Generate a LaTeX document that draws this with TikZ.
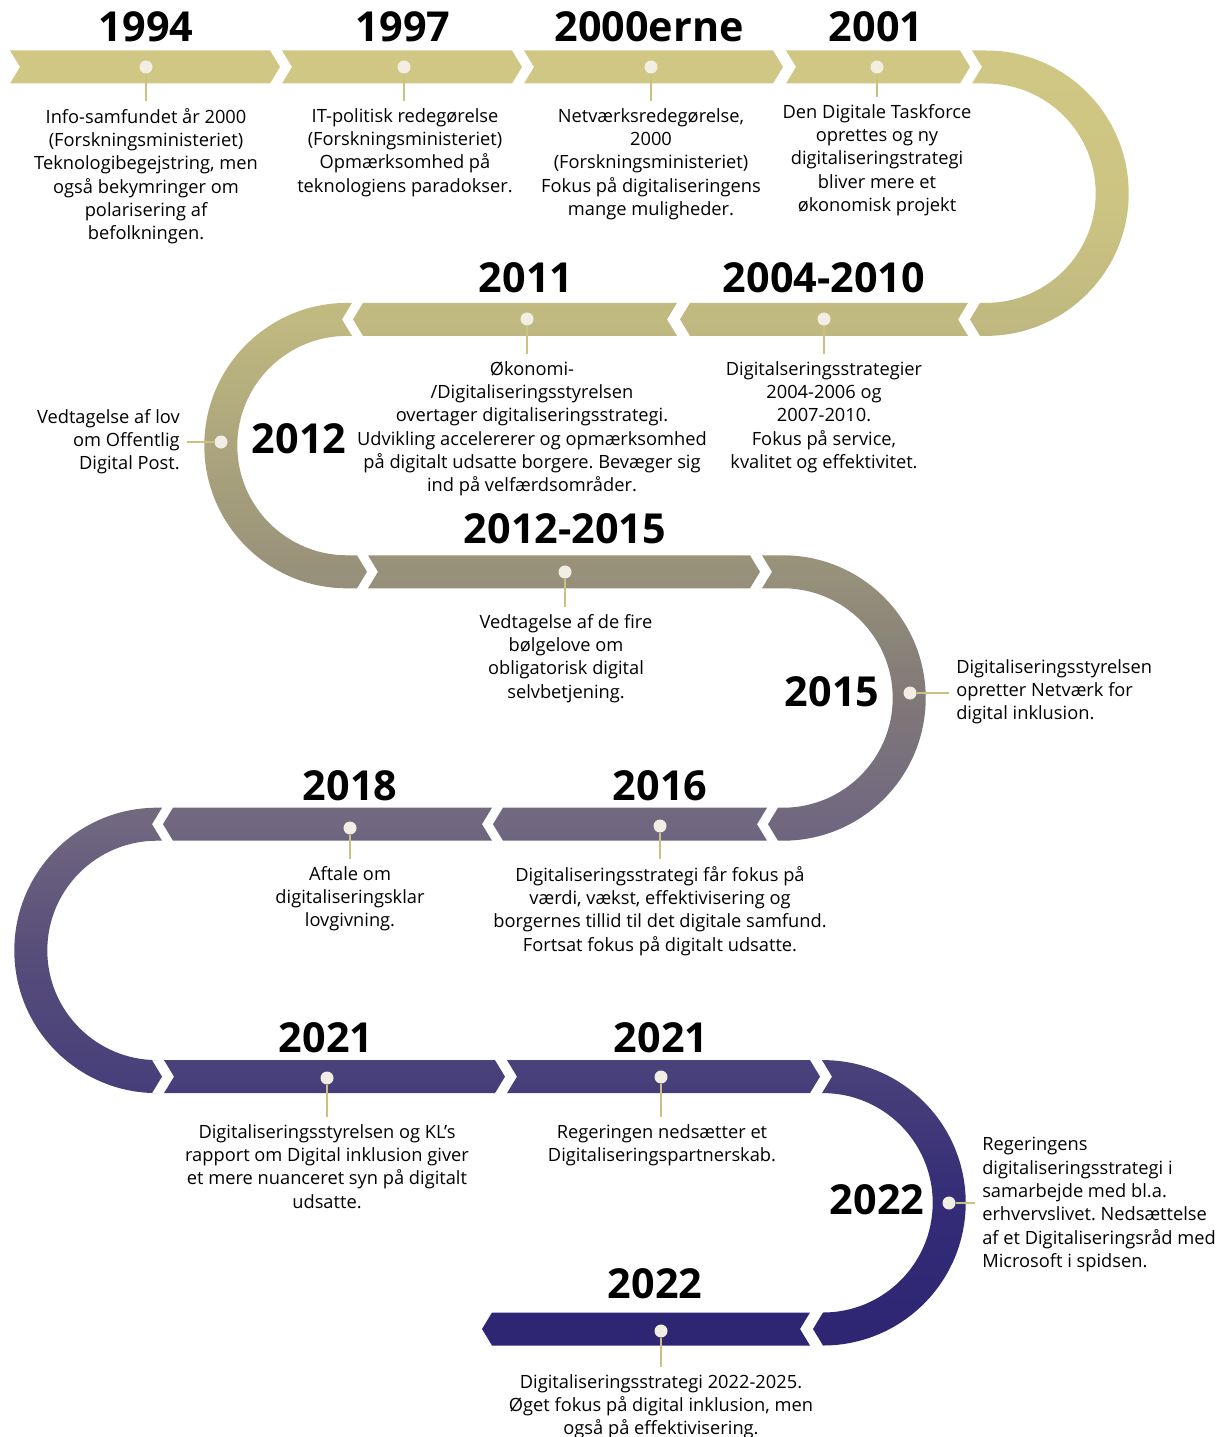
\documentclass[tikz,border=0pt]{standalone}
\usepackage{fontspec}
\setmainfont{Open Sans}
\frenchspacing

\definecolor{tl0}{RGB}{208,199,132}
\definecolor{tl1}{RGB}{204,196,130}
\definecolor{tl2}{RGB}{192,185,128}
\definecolor{tl3}{RGB}{152,145,122}
\definecolor{tl4}{RGB}{128,121,120}
\definecolor{tl5}{RGB}{112,103,128}
\definecolor{tl6}{RGB}{88,78,122}
\definecolor{tl7}{RGB}{72,64,122}
\definecolor{tl8}{RGB}{52,44,118}
\definecolor{tl9}{RGB}{46,38,115}
\definecolor{dotcream}{RGB}{243,238,228}
\definecolor{stemkhaki}{RGB}{201,194,128}

\pgfdeclareverticalshading{timeband}{100bp}{color(0bp)=(tl9); color(25.6bp)=(tl9); color(30.5bp)=(tl8); color(35.4bp)=(tl7); color(40.3bp)=(tl6); color(45.1bp)=(tl5); color(50bp)=(tl4); color(54.9bp)=(tl3); color(64.6bp)=(tl2); color(69bp)=(tl1); color(74.4bp)=(tl0); color(100bp)=(tl0)}

\begin{document}
\begin{tikzpicture}[x=0.75pt,y=-0.75pt]
		\tikzstyle{year label} = [font=\fontsize{31}{36}\selectfont\bfseries, anchor=base, inner sep=0pt]
		\tikzstyle{info text} = [font=\fontsize{13.7}{17.5}\selectfont, align=center, anchor=north, inner sep=0pt]
		\tikzstyle{time dot} = [circle, fill=dotcream, minimum size=9.75pt, inner sep=0pt]
		\tikzstyle{stem line} = [line width=2pt, stemkhaki, shorten >=5pt]

		\useasboundingbox (0,0) rectangle (1228,1437);

		\shade[shading=timeband]
			(10,50.5) -- (270,50.5) -- (280,67) -- (270,83.5) -- (10,83.5) -- (20,67) -- cycle
			(282,50.5) -- (512,50.5) -- (522,67) -- (512,83.5) -- (282,83.5) -- (292,67) -- cycle
			(524,50.5) -- (773,50.5) -- (783,67) -- (773,83.5) -- (524,83.5) -- (534,67) -- cycle
			(786,50.5) -- (960,50.5) -- (970,67) -- (960,83.5) -- (786,83.5) -- (796,67) -- cycle
			(972,50.5) -- (986,50.5) arc[start angle=-90, end angle=90, radius=142.7] -- (980,335.9) -- (970,319.4) -- (980,302.9) -- (986,302.9) arc[start angle=90, end angle=-90, radius=109.7] -- (972,83.5) -- (982,67) -- cycle
			(680,319.4) -- (690,302.9) -- (968,302.9) -- (958,319.4) -- (968,335.9) -- (690,335.9) -- cycle
			(353,319.4) -- (363,302.9) -- (677,302.9) -- (667,319.4) -- (677,335.9) -- (363,335.9) -- cycle
			(352,302.9) -- (347,302.9) arc[start angle=-90, end angle=-270, radius=142.7] -- (357,588.3) -- (367,571.8) -- (357,555.3) -- (347,555.3) arc[start angle=90, end angle=270, radius=109.7] -- (352,335.9) -- (342,319.4) -- cycle
			(368,555.3) -- (750,555.3) -- (760,571.8) -- (750,588.3) -- (368,588.3) -- (378,571.8) -- cycle
			(762,555.3) -- (783,555.3) arc[start angle=-90, end angle=90, radius=142.7] -- (778,840.7) -- (768,824.2) -- (778,807.7) -- (783,807.7) arc[start angle=90, end angle=-90, radius=109.7] -- (762,588.3) -- (772,571.8) -- cycle
			(493,824.2) -- (503,807.7) -- (767,807.7) -- (757,824.2) -- (767,840.7) -- (503,840.7) -- cycle
			(163,824.2) -- (173,807.7) -- (492,807.7) -- (482,824.2) -- (492,840.7) -- (173,840.7) -- cycle
			(162,807.7) -- (157,807.7) arc[start angle=-90, end angle=-270, radius=142.7] -- (152,1093.1) -- (162,1076.6) -- (152,1060.1) -- (157,1060.1) arc[start angle=90, end angle=270, radius=109.7] -- (162,840.7) -- (152,824.2) -- cycle
			(164,1060.1) -- (495,1060.1) -- (505,1076.6) -- (495,1093.1) -- (164,1093.1) -- (174,1076.6) -- cycle
			(507,1060.1) -- (810,1060.1) -- (820,1076.6) -- (810,1093.1) -- (507,1093.1) -- (517,1076.6) -- cycle
			(822,1060.1) -- (823,1060.1) arc[start angle=-90, end angle=90, radius=142.7] -- (813,1329) -- (823,1312.5) arc[start angle=90, end angle=-90, radius=109.7] -- (822,1093.1) -- (832,1076.6) -- cycle
			(482,1329) -- (492,1312.5) -- (810,1312.5) -- (800,1329) -- (810,1345.5) -- (492,1345.5) -- cycle;

		\node[year label] (y1994) at (146,42) {1994};
		\node[year label] (y1997) at (403,42) {1997};
		\node[year label] (y2000) at (649,42) {2000erne};
		\node[year label] (y2001) at (876,42) {2001};
		\node[year label] (y2011) at (526,293) {2011};
		\node[year label] (y2004) at (824,293) {2004-2010};
		\node[year label] (y2012) at (299,453) {2012};
		\node[year label] (y2012b) at (565,543) {2012-2015};
		\node[year label] (y2015) at (832,706) {2015};
		\node[year label] (y2016) at (660,800) {2016};
		\node[year label] (y2018) at (350,800) {2018};
		\node[year label] (y2021a) at (326,1052) {2021};
		\node[year label] (y2021b) at (661,1052) {2021};
		\node[year label] (y2022a) at (877,1214) {2022};
		\node[year label] (y2022b) at (655,1298) {2022};

		\node[time dot] (d1994) at (146,67) {};
		\node[time dot] (d1997) at (404,67) {};
		\node[time dot] (d2000) at (651,67) {};
		\node[time dot] (d2001) at (877,67) {};
		\node[time dot] (d2011) at (527,319) {};
		\node[time dot] (d2004) at (824,319) {};
		\node[time dot] (d2012) at (221,442) {};
		\node[time dot] (d2012b) at (565,572) {};
		\node[time dot] (d2015) at (910,693) {};
		\node[time dot] (d2016) at (660,826) {};
		\node[time dot] (d2018) at (350,828) {};
		\node[time dot] (d2021a) at (327,1078) {};
		\node[time dot] (d2021b) at (661,1077) {};
		\node[time dot] (d2022a) at (949,1203) {};
		\node[time dot] (d2022b) at (661,1331) {};

		\node[info text] (t1994) at (146,108) {Info-samfundet år 2000\\(Forskningsministeriet)\\Teknologibegejstring, men\\også bekymringer om\\polarisering af\\befolkningen.};
		\node[info text] (t1997) at (405,108) {IT-politisk redegørelse\\(Forskningsministeriet)\\Opmærksomhed på\\teknologiens paradokser.};
		\node[info text] (t2000) at (651,108) {Netværksredegørelse,\\2000\\(Forskningsministeriet)\\Fokus på digitaliseringens\\mange muligheder.};
		\node[info text] (t2001) at (877,104) {Den Digitale Taskforce\\oprettes og ny\\digitaliseringstrategi\\bliver mere et\\økonomisk projekt};
		\node[info text] (t2011) at (532,361) {Økonomi-\\/Digitaliseringsstyrelsen\\overtager digitaliseringsstrategi.\\Udvikling accelererer og opmærksomhed\\på digitalt udsatte borgere. Bevæger sig\\ind på velfærdsområder.};
		\node[info text] (t2004) at (824,361) {Digitalseringsstrategier\\2004-2006 og\\2007-2010.\\Fokus på service,\\kvalitet og effektivitet.};
		\node[info text, anchor=north east, align=right] (t2012) at (180,409) {Vedtagelse af lov\\om Offentlig\\Digital Post.};
		\node[info text] (t2012b) at (566,614) {Vedtagelse af de fire\\bølgelove om\\obligatorisk digital\\selvbetjening.};
		\node[info text, anchor=north west, align=left] (t2015) at (956,659) {Digitaliseringsstyrelsen\\opretter Netværk for\\digital inklusion.};
		\node[info text] (t2016) at (660,866) {Digitaliseringsstrategi får fokus på\\værdi, vækst, effektivisering og\\borgernes tillid til det digitale samfund.\\Fortsat fokus på digitalt udsatte.};
		\node[info text] (t2018) at (350,866) {Aftale om\\digitaliseringsklar\\lovgivning.};
		\node[info text] (t2021a) at (327,1124) {Digitaliseringsstyrelsen og KL’s\\rapport om Digital inklusion giver\\et mere nuanceret syn på digitalt\\udsatte.};
		\node[info text] (t2021b) at (662,1124) {Regeringen nedsætter et\\Digitaliseringspartnerskab.};
		\node[info text, anchor=north west, align=left] (t2022a) at (982,1137) {Regeringens\\digitaliseringsstrategi i\\samarbejde med bl.a.\\erhvervslivet. Nedsættelse\\af et Digitaliseringsråd med\\Microsoft i spidsen.};
		\node[info text] (t2022b) at (661,1374) {Digitaliseringsstrategi 2022-2025.\\Øget fokus på digital inklusion, men\\også på effektivisering.};

		\draw[stem line] (d1994.south) -- (d1994.south |- t1994.north);
		\draw[stem line] (d1997.south) -- (d1997.south |- t1997.north);
		\draw[stem line] (d2000.south) -- (d2000.south |- t2000.north);
		\draw[stem line] (d2001.south) -- (d2001.south |- t2001.north);
		\draw[stem line] (d2011.south) -- (d2011.south |- t2011.north);
		\draw[stem line] (d2004.south) -- (d2004.south |- t2004.north);
		\draw[stem line] (d2012.west) -- (d2012 -| t2012.east);
		\draw[stem line] (d2012b.south) -- (d2012b.south |- t2012b.north);
		\draw[stem line] (d2015.east) -- (d2015 -| t2015.west);
		\draw[stem line] (d2016.south) -- (d2016.south |- t2016.north);
		\draw[stem line] (d2018.south) -- (d2018.south |- t2018.north);
		\draw[stem line] (d2021a.south) -- (d2021a.south |- t2021a.north);
		\draw[stem line] (d2021b.south) -- (d2021b.south |- t2021b.north);
		\draw[stem line] (d2022a.east) -- (d2022a -| t2022a.west);
		\draw[stem line] (d2022b.south) -- (d2022b.south |- t2022b.north);

\end{tikzpicture}
\end{document}
